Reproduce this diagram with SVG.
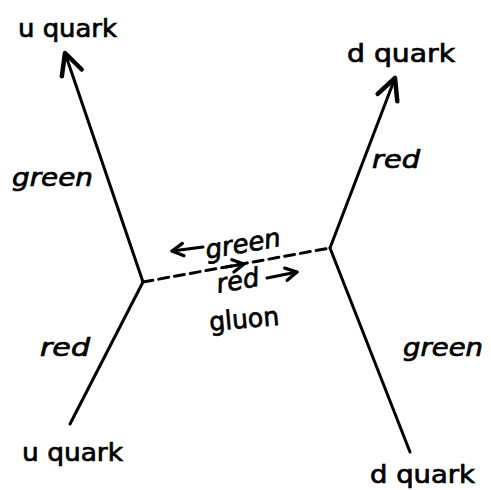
<svg xmlns="http://www.w3.org/2000/svg" width="491" height="490" viewBox="0 0 491 490">
<defs>
<marker id="big" markerUnits="userSpaceOnUse" markerWidth="30" markerHeight="30" refX="0" refY="0" viewBox="-16 -10 20 20" orient="auto" overflow="visible">
<path d="M-14,-7 L0,0 L-14,7" fill="none" stroke="#000" stroke-width="3" stroke-linecap="round" stroke-linejoin="round"/>
</marker>
<marker id="small" markerUnits="userSpaceOnUse" markerWidth="20" markerHeight="20" refX="0" refY="0" viewBox="-12 -8 16 16" orient="auto" overflow="visible">
<path d="M-9,-5 L0,0 L-9,5" fill="none" stroke="#000" stroke-width="2.6" stroke-linecap="round" stroke-linejoin="round"/>
</marker>
</defs>
<style>
.ln{stroke:#000;stroke-width:3;fill:none;stroke-linecap:round}
.lbl{font-family:"DejaVu Sans","Liberation Sans",sans-serif;font-size:24px;fill:#000;stroke:#000;stroke-width:0.7}
.it{font-style:italic}
.mid{font-size:26px}
</style>
<rect width="491" height="490" fill="#fff"/>
<g id="connectors">
<line class="ln" x1="143" y1="282" x2="65" y2="53" marker-end="url(#big)"/>
<line class="ln" x1="143" y1="282" x2="70" y2="424"/>
<line class="ln" x1="330" y1="248" x2="395" y2="78" marker-end="url(#big)"/>
<line class="ln" x1="330" y1="248" x2="410" y2="452"/>
<line class="ln" x1="143" y1="282" x2="330" y2="248" stroke-dasharray="10 6" stroke-linecap="butt"/>
<line class="ln" x1="203" y1="247" x2="172" y2="251" stroke-width="2.6" marker-end="url(#small)"/>
<line class="ln" x1="226" y1="267" x2="244" y2="264" stroke-width="2.6" marker-end="url(#small)"/>
<line class="ln" x1="267" y1="278" x2="297" y2="272" stroke-width="2.6" marker-end="url(#small)"/>
</g>
<g id="u-quark-out"><text class="lbl" x="18" y="37" textLength="99" lengthAdjust="spacingAndGlyphs">u quark</text></g>
<g id="d-quark-out"><text class="lbl" x="347" y="62" textLength="108" lengthAdjust="spacingAndGlyphs">d quark</text></g>
<g id="u-quark-in"><text class="lbl" x="22" y="461" textLength="101" lengthAdjust="spacingAndGlyphs">u quark</text></g>
<g id="d-quark-in"><text class="lbl" x="370" y="483" textLength="105" lengthAdjust="spacingAndGlyphs">d quark</text></g>
<g id="labels">
<text class="lbl it" x="12" y="186" textLength="81" lengthAdjust="spacingAndGlyphs">green</text>
<text class="lbl it" x="40" y="356" textLength="50" lengthAdjust="spacingAndGlyphs">red</text>
<text class="lbl it" x="372" y="168" textLength="48" lengthAdjust="spacingAndGlyphs">red</text>
<text class="lbl it" x="403" y="356" textLength="80" lengthAdjust="spacingAndGlyphs">green</text>
<text class="lbl it mid" transform="translate(207,259) rotate(-10)" textLength="76" lengthAdjust="spacingAndGlyphs">green</text>
<text class="lbl it mid" transform="translate(218,293) rotate(-10)" textLength="43" lengthAdjust="spacingAndGlyphs">red</text>
<text class="lbl mid" transform="translate(210,331) rotate(-5)" textLength="70" lengthAdjust="spacingAndGlyphs">gluon</text>
</g>
</svg>
